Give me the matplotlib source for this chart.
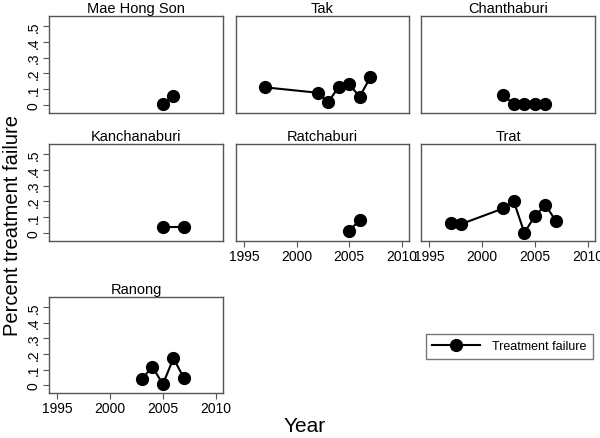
import matplotlib
matplotlib.use("Agg")
import matplotlib.pyplot as plt
from matplotlib.lines import Line2D

plt.rcParams['font.family'] = ['Liberation Sans', 'DejaVu Sans']

provinces = ["Mae Hong Son", "Tak", "Chanthaburi", "Kanchanaburi", "Ratchaburi", "Trat", "Ranong"]
years = {
    "Mae Hong Son": [2005, 2006],
    "Tak": [1997, 2002, 2003, 2004, 2005, 2006, 2007],
    "Chanthaburi": [2002, 2003, 2004, 2005, 2006],
    "Kanchanaburi": [2005, 2007],
    "Ratchaburi": [2005, 2006],
    "Trat": [1997, 1998, 2002, 2003, 2004, 2005, 2006, 2007],
    "Ranong": [2003, 2004, 2005, 2006, 2007],
}
failure = {
    "Mae Hong Son": [0.005, 0.055],
    "Tak": [0.112, 0.078, 0.021, 0.114, 0.131, 0.053, 0.175],
    "Chanthaburi": [0.065, 0.004, 0.004, 0.004, 0.004],
    "Kanchanaburi": [0.036, 0.036],
    "Ratchaburi": [0.015, 0.082],
    "Trat": [0.063, 0.057, 0.156, 0.200, 0.002, 0.108, 0.177, 0.076],
    "Ranong": [0.038, 0.118, 0.006, 0.172, 0.044],
}
xticks = [1995, 2000, 2005, 2010]
yticks = [0, 0.1, 0.2, 0.3, 0.4, 0.5]
ytick_labels = ["0", ".1", ".2", ".3", ".4", ".5"]
legend_label = "Treatment failure"

W, H = 600, 439
fig = plt.figure(figsize=(W / 100, H / 100), dpi=100)

cols = [(49, 223), (236, 409), (421, 595)]
rows = [(17, 114), (145, 242), (298, 394)]
frame_col = "#555555"

def px_axes(x0, x1, y0, y1):
    return fig.add_axes([x0 / W, 1 - y1 / H, (x1 - x0) / W, (y1 - y0) / H])

show_x = {"Ratchaburi", "Trat", "Ranong"}
for i, p in enumerate(provinces):
    r, c = divmod(i, 3)
    ax = px_axes(cols[c][0], cols[c][1], rows[r][0], rows[r][1])
    ax.plot(years[p], failure[p], color="black", lw=1.5, marker="o", ms=8.5,
            markerfacecolor="black", markeredgecolor="black")
    ax.set_xlim(1994.2, 2010.7)
    ax.set_ylim(-0.05, 0.563)
    ax.set_title(p, fontsize=10.5, pad=3)
    for s in ax.spines.values():
        s.set_color(frame_col)
        s.set_linewidth(1.0)
    ax.tick_params(colors="black", length=4, width=0.8, labelsize=10, pad=2)
    ax.tick_params(axis='both', color=frame_col)
    if c == 0:
        ax.set_yticks(yticks)
        ax.set_yticklabels(ytick_labels, rotation=90, va="center")
    else:
        ax.set_yticks([])
    if p in show_x:
        ax.set_xticks(xticks)
        ax.set_xticklabels([str(t) for t in xticks])
    else:
        ax.set_xticks([])

fig.text(13 / W, 1 - 225 / H, "Percent treatment failure", rotation=90,
         ha="center", va="center", fontsize=14.5)
fig.text(305 / W, 1 - 427 / H, "Year", ha="center", va="center", fontsize=15)

handle = Line2D([], [], color="black", lw=1.5, marker="o", ms=8.5)
leg = fig.legend([handle], [legend_label], loc="center",
                 bbox_to_anchor=(509.5 / W, 1 - 347.5 / H), fontsize=9,
                 frameon=True, fancybox=False, edgecolor=frame_col,
                 handlelength=3.8, borderpad=0.5, handletextpad=1.0)
leg.get_frame().set_linewidth(1.0)

fig.savefig("out.png", dpi=100)
